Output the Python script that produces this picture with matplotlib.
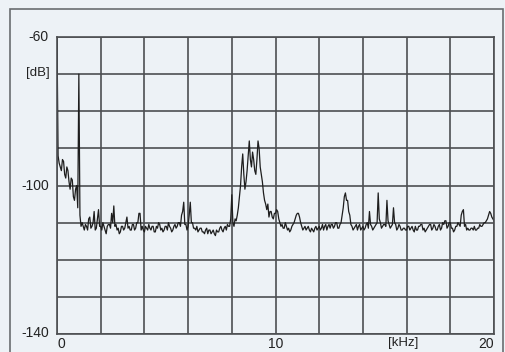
import numpy as np
import matplotlib
matplotlib.use("Agg")
import matplotlib.pyplot as plt
from matplotlib.patches import Rectangle

# Spectrum level (dB), 0..20 kHz in 0.05 kHz steps; one row per kHz
level_0k = [-60, -92, -94, -95, -96, -93, -93.5, -97, -98, -95, -96, -99, -101, -98, -98.5, -103, -104, -101, -100, -106]
level_1k = [-70, -108, -111, -110, -111, -112, -110.5, -111, -112, -109, -108.5, -111.5, -111, -110, -107, -112, -111.5, -109, -106.5, -111]
level_2k = [-111, -112, -110, -111, -112, -113, -111, -110.5, -110.5, -111.5, -107.5, -110, -105.5, -111, -110.5, -112, -111.5, -113, -112.5, -111]
level_3k = [-111, -112, -111.5, -110, -108.5, -111.5, -111, -112, -112, -110.5, -110.5, -112, -111.5, -110, -110, -107.5, -107.5, -112, -111, -112]
level_4k = [-112.5, -111, -111.5, -112, -110.5, -111.5, -112, -111, -111, -112.5, -112.5, -111, -111.5, -110, -110.5, -112, -111.5, -112.5, -112, -111]
level_5k = [-111, -112, -110, -111, -111.5, -112.5, -112, -111, -110.5, -111.5, -111, -110, -110, -111, -108, -107, -104.5, -110.5, -110.5, -112]
level_6k = [-111, -108, -104.5, -110, -110, -111.5, -111.5, -112, -111, -112.5, -112, -111.5, -111.5, -112.5, -112.5, -113, -112, -111.5, -113, -112]
level_7k = [-112, -113, -112.5, -112, -113, -113.5, -112, -112.5, -112.5, -111.5, -111, -112, -112.5, -111.5, -111, -112, -110.5, -111, -111, -109]
level_8k = [-102.5, -110, -111, -109, -109.5, -108, -106, -103, -100, -95, -91.5, -97, -101, -99, -96, -92, -88, -93, -95, -91]
level_9k = [-93, -96, -97, -93, -88, -90, -95, -97, -99, -102, -104, -105, -106.5, -105, -108.5, -107, -107, -108.5, -109, -107.5]
level_10k = [-107.5, -106.5, -107, -109, -110, -111, -110.5, -111.5, -111.5, -110, -111, -112, -111.5, -112.5, -112, -111, -110.5, -110, -109, -108]
level_11k = [-107.5, -107.5, -108.5, -110, -111, -112, -111.5, -111, -112, -111.5, -111, -112, -112.5, -111.5, -112, -112.5, -111.5, -111, -112, -111.5]
level_12k = [-111, -112, -111.5, -110.5, -112, -111, -110.5, -112, -111, -110.5, -111.5, -110.5, -110.5, -111.5, -111, -110, -110, -111.5, -111.5, -110.5]
level_13k = [-110, -108, -106, -103, -102, -104, -104, -107, -108, -110.5, -111, -112, -111.5, -111, -110.5, -112, -111, -110.5, -112, -111.5]
level_14k = [-111, -112, -111.5, -110.5, -110, -111.5, -107, -110.5, -111, -112, -111.5, -111, -110.5, -110, -102, -109, -110, -111.5, -111, -110.5]
level_15k = [-110.5, -111, -104, -109.5, -110.5, -111.5, -111, -110.5, -106, -110, -110.5, -112, -111.5, -110.5, -111, -112, -112, -111.5, -111.5, -112]
level_16k = [-112, -111, -111, -112, -111.5, -111, -112, -112.5, -111, -112, -112, -111, -111, -110.5, -110.5, -112, -111.5, -112.5, -112, -111.5]
level_17k = [-111, -110.5, -110.5, -112, -111.5, -110.5, -111, -112, -112, -111, -110.5, -112, -111.5, -110, -110.5, -109.5, -109.5, -111.5, -111, -110]
level_18k = [-110, -111.5, -111.5, -112.5, -112, -111, -111, -110, -110.5, -111, -108, -107, -106.5, -111, -110.5, -112, -111.5, -112, -112, -111.5]
level_19k = [-111.5, -112, -111, -112, -112, -111.5, -111.5, -110.5, -111, -111, -110.5, -110, -110, -109.5, -109, -108, -107, -107.5, -108.5, -109]
level_20k = [-109.5]

level_db = (level_0k + level_1k + level_2k + level_3k + level_4k + level_5k + level_6k
            + level_7k + level_8k + level_9k + level_10k + level_11k + level_12k
            + level_13k + level_14k + level_15k + level_16k + level_17k + level_18k
            + level_19k + level_20k)
freq_khz = [i * 0.05 for i in range(len(level_db))]

y_tick_values = [-60, -100, -140]
y_tick_labels = ["-60", "-100", "-140"]
x_tick_values = [0, 10, 20]
x_tick_labels = ["0", "10", "20"]
y_unit = "[dB]"
x_unit = "[kHz]"

bg = "#edf2f6"
grid_col = "#4d4f52"
line_col = "#1e1e1e"

plt.rcParams["font.family"] = ["Liberation Sans", "DejaVu Sans"]

fig = plt.figure(figsize=(5.05, 3.52), dpi=100, facecolor=bg)
ax = fig.add_axes([57 / 505, 18 / 352, 437 / 505, 297 / 352])
ax.set_facecolor(bg)

ax.plot(freq_khz, level_db, color=line_col, lw=0.9)

ax.set_xlim(0, 20)
ax.set_ylim(-140, -60)
ax.set_xticks(np.arange(0, 21, 2))
ax.set_yticks(np.arange(-140, -59, 10))
ax.tick_params(length=0, labelbottom=False, labelleft=False)
ax.grid(True, color=grid_col, lw=1.2)
for s in ax.spines.values():
    s.set_color(grid_col)
    s.set_linewidth(1.2)

# tick labels
for v, t in zip(y_tick_values, y_tick_labels):
    dy = 1 if v == -140 else 0
    ax.annotate(t, xy=(0, v), xycoords=("axes fraction", "data"),
                xytext=(-6, dy), textcoords="offset points",
                ha="right", va="center", fontsize=10, color="#222222")
ax.annotate(y_unit, xy=(0, -70), xycoords=("axes fraction", "data"),
            xytext=(-5, 1), textcoords="offset points",
            ha="right", va="center", fontsize=9.5, color="#222222")

x_offsets = {0: 3, 10: 0, 20: -6}
for v, t in zip(x_tick_values, x_tick_labels):
    ax.annotate(t, xy=(v, 0), xycoords=("data", "axes fraction"),
                xytext=(x_offsets[v], -2.5), textcoords="offset points",
                ha="center", va="top", fontsize=10, color="#222222")
ax.annotate(x_unit, xy=(15.8, 0), xycoords=("data", "axes fraction"),
            xytext=(1, -2.5), textcoords="offset points",
            ha="center", va="top", fontsize=9.5, color="#222222")

# outer frame
fig.add_artist(Rectangle((10 / 505, -0.05), 493 / 505, 1.05 - 9 / 352,
                         transform=fig.transFigure, fill=False,
                         edgecolor="#6a6d70", lw=1.2))

fig.savefig("out.png", dpi=100, facecolor=bg)
